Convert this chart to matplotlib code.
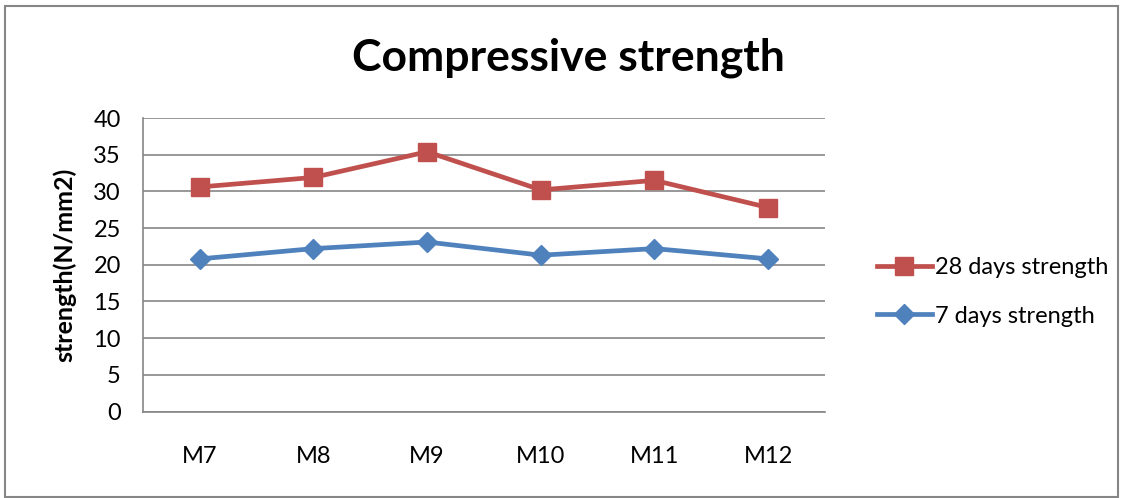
import matplotlib
matplotlib.use("Agg")
import matplotlib.pyplot as plt
from matplotlib.patches import Rectangle

plt.rcParams['font.family'] = ['Lato', 'DejaVu Sans']

categories = ["M7", "M8", "M9", "M10", "M11", "M12"]
days28 = [30.6, 31.9, 35.4, 30.2, 31.5, 27.8]
days7 = [20.8, 22.2, 23.1, 21.3, 22.2, 20.8]
yticks = [0, 5, 10, 15, 20, 25, 30, 35, 40]

W, H = 1123, 498
fig = plt.figure(figsize=(W/100, H/100), dpi=100)
ax = fig.add_axes([143/W, 1-411.5/H, (825-143)/W, (411.5-118)/H])

x = list(range(len(categories)))
red = "#C0504D"
blue = "#4F81BD"
l28, = ax.plot(x, days28, color=red, lw=3.4, marker="s", ms=13.5, label="28 days strength", zorder=4)
l7, = ax.plot(x, days7, color=blue, lw=3.4, marker="D", ms=10.5, label="7 days strength", zorder=3)

ax.set_xlim(-0.5, 5.5)
ax.set_ylim(0, 40)
ax.set_yticks(yticks)
ax.set_xticks(x)
ax.set_xticklabels(categories)
ax.yaxis.grid(True, color="#868686", lw=1.2)
ax.set_axisbelow(True)
for s in ["top", "right"]:
    ax.spines[s].set_visible(False)
ax.spines["left"].set_color("#868686")
ax.spines["bottom"].set_color("#868686")
ax.spines["left"].set_linewidth(1.2)
ax.spines["bottom"].set_linewidth(1.2)
ax.tick_params(axis="both", length=0, labelsize=17, colors="black")
ax.tick_params(axis="x", pad=25)
ax.tick_params(axis="y", pad=16)
ax.set_ylabel("strength(N/mm2)", fontsize=18, fontweight="bold", labelpad=12)

fig.text(568/W, 1-58/H, "Compressive strength", ha="center", va="center",
         fontsize=32, fontweight="bold")

fig.legend(handles=[l28, l7], loc="center left", bbox_to_anchor=(856/W, 1-292/H),
           frameon=False, fontsize=17, handlelength=2.3, labelspacing=1.15,
           handletextpad=0.15, markerscale=0.95)

fig.patches.append(Rectangle((5/W, 1/H), (1118-5)/W, (492-1)/H, transform=fig.transFigure,
                             fill=False, edgecolor="#868686", lw=1.5))

fig.savefig("out.png", dpi=100)
